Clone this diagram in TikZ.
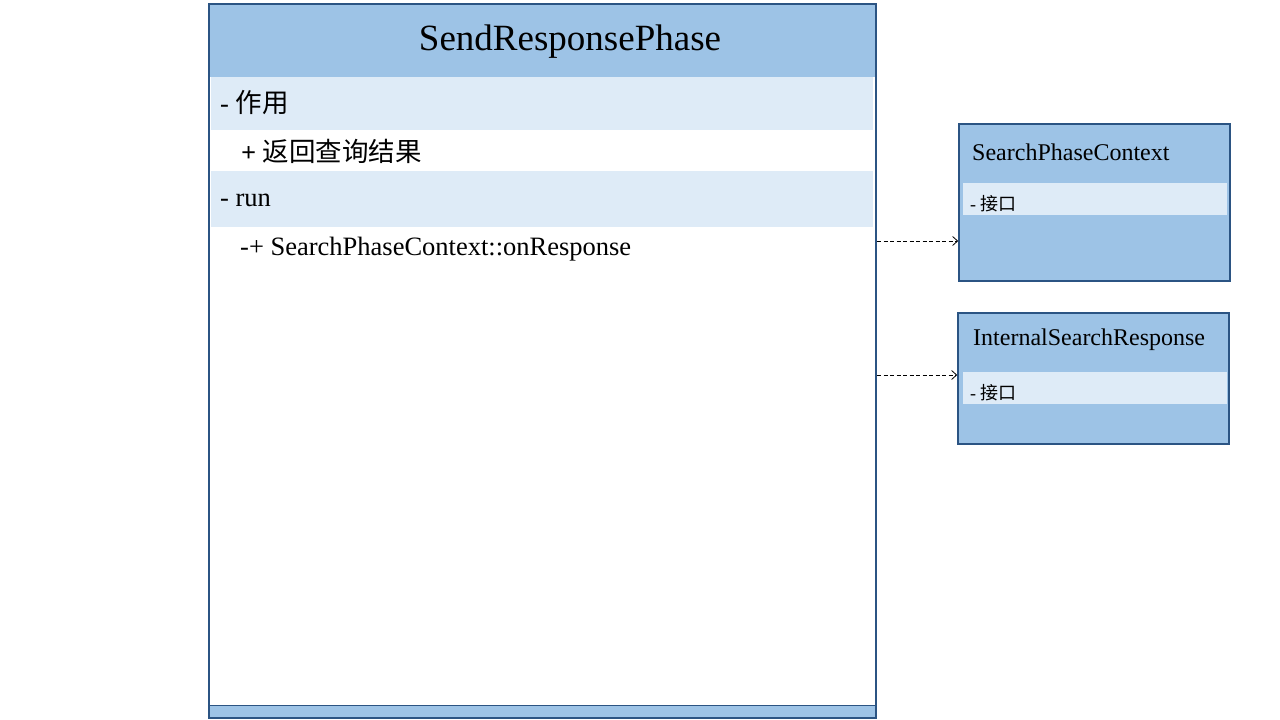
\documentclass[tikz,border=0pt]{standalone}
\usepackage{fontspec}
\usetikzlibrary{arrows.meta}
\setmainfont{Liberation Serif}
\newfontfamily\cjk{Noto Sans CJK SC}
\definecolor{headblue}{HTML}{9DC3E6}
\definecolor{rowblue}{HTML}{DEEBF7}
\definecolor{edgeblue}{HTML}{2B5483}
\tikzset{
  classbox/.style={draw=edgeblue, line width=1.6pt, inner sep=0pt},
  rowtext/.style={anchor=west, inner sep=0pt, font=\fontsize{26.5}{28}\selectfont},
  smalltext/.style={anchor=west, inner sep=0pt, font=\fontsize{24}{26}\selectfont},
  itemtext/.style={anchor=west, inner sep=0pt, font=\fontsize{18}{20}\selectfont},
  uses/.style={draw=black, line width=0.8pt, dash pattern=on 4pt off 2.5pt,
    -{Straight Barb[length=5pt, width=9pt, line width=0.8pt]}}
}
\begin{document}
\begin{tikzpicture}[x=1pt, y=-1pt]
\useasboundingbox (0,0) rectangle (1280,720);
% the SendResponsePhase class
\node[classbox, fill=white, minimum width=667pt, minimum height=714pt] (phase) at (542.5,361) {};
\fill[headblue] (210,5) rectangle (875,77);
\fill[rowblue] (211,77) rectangle (873,130);
\fill[rowblue] (211,171) rectangle (873,227);
\fill[headblue] (210,705) rectangle (875,717);
\draw[edgeblue, line width=1pt] (210,705) -- (875,705);
\draw[classbox, fill=none] (209,4) rectangle (876,718);
\node[font=\fontsize{37}{40}\selectfont] (title) at (570,42) {SendResponsePhase};
\node[rowtext] (role) at (220,103) {- {\cjk 作用}};
\node[rowtext] (roleitem) at (241,151) {\textbf{+} {\cjk 返回查询结果}};
\node[rowtext] (run) at (220,200) {- run};
\node[rowtext] (runitem) at (240,249) {-+ SearchPhaseContext::onResponse};
% the two interfaces on the right
\node[classbox, fill=headblue, minimum width=271pt, minimum height=157pt] (context) at (1094.5,202.5) {};
\fill[rowblue] (963,183) rectangle (1227,215);
\node[smalltext] (contexttitle) at (972,152) {SearchPhaseContext};
\node[itemtext] (contextitem) at (970,204) {- {\cjk 接口}};
\node[classbox, fill=headblue, minimum width=271pt, minimum height=131pt] (response) at (1093.5,378.5) {};
\fill[rowblue] (963,372) rectangle (1227,404);
\node[smalltext] (responsetitle) at (973,340) {InternalSearchResponse};
\node[itemtext] (responseitem) at (970,393) {- {\cjk 接口}};
% dependencies
\coordinate (out1) at (877,241);
\coordinate (out2) at (877,375);
\draw[uses] (out1) -- (context.west |- out1);
\draw[uses] (out2) -- (response.west |- out2);
\end{tikzpicture}
\end{document}
